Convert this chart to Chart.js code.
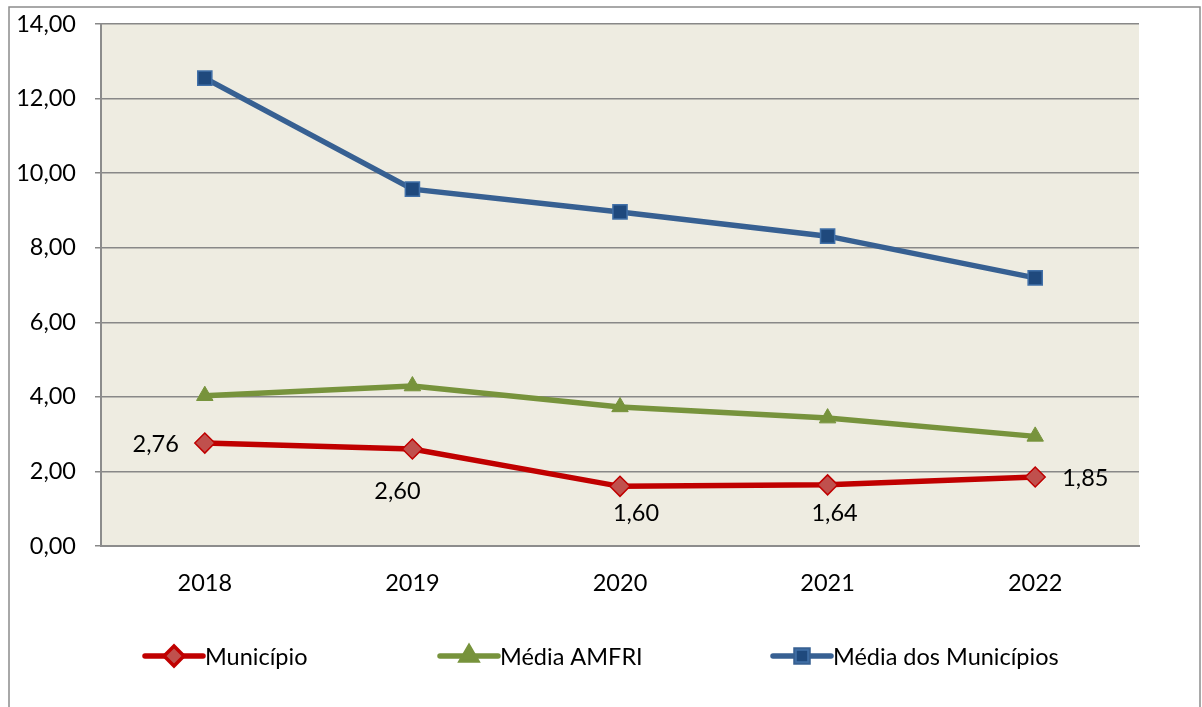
<!DOCTYPE html>
<html>
<head>
<meta charset="utf-8">
<script src="https://cdn.jsdelivr.net/npm/chart.js@4.4.1/dist/chart.umd.min.js"></script>
<style>
  html, body { margin: 0; padding: 0; background: #ffffff; }
  #wrap { position: relative; width: 1202px; height: 707px; }
</style>
</head>
<body>
<div id="wrap"><canvas id="c" width="1202" height="707"></canvas></div>
<script>
const categories = ['2018', '2019', '2020', '2021', '2022'];
const municipio = [2.76, 2.60, 1.60, 1.64, 1.85];
const mediaAmfri = [4.03, 4.29, 3.73, 3.43, 2.94];
const mediaMunicipios = [12.55, 9.57, 8.96, 8.31, 7.19];
const seriesNames = ['Município', 'Média AMFRI', 'Média dos Municípios'];
const yMin = 0, yMax = 14, yStep = 2;

const FONT = 'Lato, "Open Sans", sans-serif';
const FS = 23.5;
const fmt = v => v.toFixed(2).replace('.', ',');

const framePlugin = {
  id: 'frame',
  beforeDraw(chart) {
    const ctx = chart.ctx, a = chart.chartArea;
    ctx.save();
    ctx.fillStyle = '#ffffff';
    ctx.fillRect(0, 0, chart.width, chart.height);
    ctx.strokeStyle = '#8c8c8c';
    ctx.lineWidth = 1.5;
    ctx.strokeRect(9, 7, 1191, 740);
    ctx.fillStyle = '#EEECE1';
    ctx.fillRect(a.left, a.top, a.right - a.left, a.bottom - a.top);
    ctx.restore();
  }
};

// label offsets relative to the point (style only)
const labelPlacement = [
  { dx: -26, dy: 1, align: 'right' },
  { dx: -15, dy: 42, align: 'center' },
  { dx: 16, dy: 27, align: 'center' },
  { dx: 7, dy: 29, align: 'center' },
  { dx: 27, dy: 1, align: 'left' }
];

const labelsPlugin = {
  id: 'valueLabels',
  afterDatasetsDraw(chart) {
    const ctx = chart.ctx;
    const meta = chart.getDatasetMeta(0);
    ctx.save();
    ctx.font = FS + 'px ' + FONT;
    ctx.fillStyle = '#000000';
    ctx.textBaseline = 'middle';
    meta.data.forEach((pt, i) => {
      const p = labelPlacement[i];
      ctx.textAlign = p.align;
      ctx.fillText(fmt(chart.data.datasets[0].data[i]), pt.x + p.dx, pt.y + p.dy);
    });
    ctx.restore();
  }
};

const legendPos = [
  { x1: 145, x2: 203, tx: 205 },
  { x1: 440, x2: 498, tx: 500 },
  { x1: 773, x2: 831, tx: 833 }
];

const legendPlugin = {
  id: 'customLegend',
  afterDraw(chart) {
    const ctx = chart.ctx;
    const y = 656;
    ctx.save();
    chart.data.datasets.forEach((ds, i) => {
      const p = legendPos[i];
      ctx.strokeStyle = ds.borderColor;
      ctx.lineWidth = ds.borderWidth;
      ctx.lineCap = 'round';
      ctx.beginPath();
      ctx.moveTo(p.x1, y);
      ctx.lineTo(p.x2, y);
      ctx.stroke();
      Chart.helpers.drawPoint(ctx, {
        pointStyle: ds.pointStyle,
        radius: ds.pointRadius * 0.85,
        borderWidth: ds.pointBorderWidth,
        rotation: 0
      }, (p.x1 + p.x2) / 2, y);
      ctx.fillStyle = ds.pointBackgroundColor;
      ctx.strokeStyle = ds.pointBorderColor;
      ctx.lineWidth = ds.pointBorderWidth;
      ctx.fill();
      ctx.stroke();
      ctx.fillStyle = '#000000';
      ctx.font = FS + 'px ' + FONT;
      ctx.textAlign = 'left';
      ctx.textBaseline = 'middle';
      ctx.fillText(ds.label, p.tx, y + 1);
    });
    ctx.restore();
  }
};

new Chart(document.getElementById('c'), {
  type: 'line',
  data: {
    labels: categories,
    datasets: [
      {
        label: seriesNames[0], data: municipio,
        borderColor: '#C00000', borderWidth: 5.5,
        pointStyle: 'rectRot', pointRadius: 10,
        pointBackgroundColor: '#C0504D', pointBorderColor: '#C00000', pointBorderWidth: 1.5
      },
      {
        label: seriesNames[1], data: mediaAmfri,
        borderColor: '#77933C', borderWidth: 5.5,
        pointStyle: 'triangle', pointRadius: 9.5,
        pointBackgroundColor: '#77933C', pointBorderColor: '#77933C', pointBorderWidth: 1
      },
      {
        label: seriesNames[2], data: mediaMunicipios,
        borderColor: '#376092', borderWidth: 5.5,
        pointStyle: 'rect', pointRadius: 10,
        pointBackgroundColor: '#1F497D', pointBorderColor: '#4170A8', pointBorderWidth: 1.5
      }
    ]
  },
  options: {
    responsive: false,
    animation: false,
    events: [],
    layout: { padding: { top: 24, right: 63, left: 0, bottom: 0 } },
    plugins: { legend: { display: false }, tooltip: { enabled: false }, title: { display: false } },
    elements: { line: { tension: 0 } },
    scales: {
      x: {
        offset: true,
        grid: { display: false, drawTicks: false },
        border: { display: true, color: '#8c8c8c', width: 2 },
        ticks: { font: { family: FONT, size: FS }, color: '#000', padding: 23, maxRotation: 0 },
        afterFit(s) { s.height = 707 - 546; s.paddingLeft = 0; s.paddingRight = 0; }
      },
      y: {
        min: yMin, max: yMax,
        grid: { color: '#888888', lineWidth: 1.5, tickLength: 6, drawTicks: true, tickColor: '#888888' },
        border: { display: true, color: '#8c8c8c', width: 2 },
        ticks: {
          stepSize: yStep, padding: 19, color: '#000',
          font: { family: FONT, size: FS },
          callback: v => fmt(v)
        },
        afterFit(s) { s.width = 101; s.paddingTop = 0; s.paddingBottom = 0; }
      }
    }
  },
  plugins: [framePlugin, labelsPlugin, legendPlugin]
});
</script>
</body>
</html>
